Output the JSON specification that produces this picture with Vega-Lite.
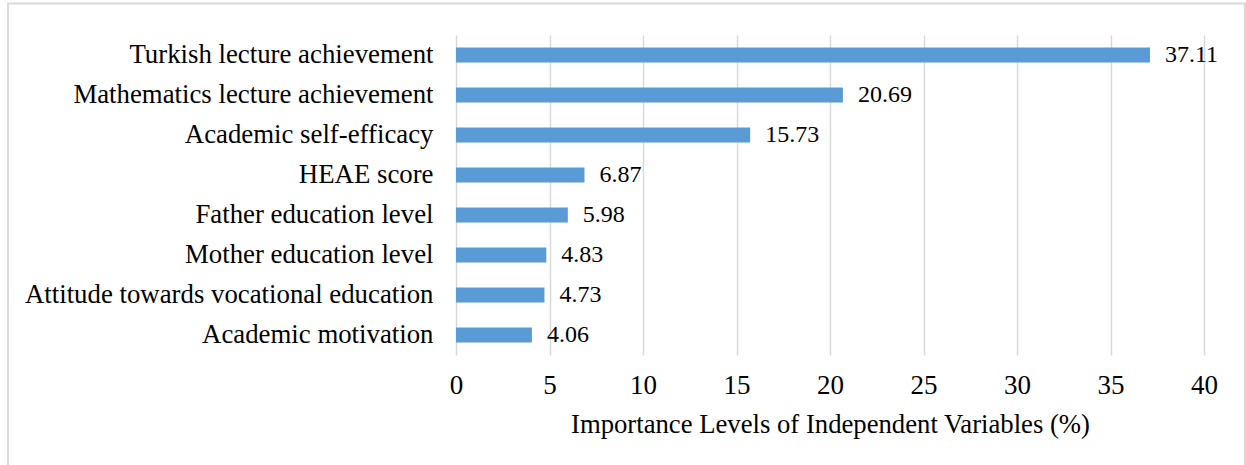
{
  "$schema": "https://vega.github.io/schema/vega-lite/v6.json",
  "autosize": {"type": "none"},
  "width": 748,
  "height": 320,
  "padding": {"left": 456, "top": 35, "right": 42, "bottom": 110},
  "background": "white",
  "config": {
    "view": {"stroke": null},
    "font": "Liberation Serif"
  },
  "datasets": {
    "vars": [
      {"variable": "Turkish lecture achievement", "importance": 37.11},
      {"variable": "Mathematics lecture achievement", "importance": 20.69},
      {"variable": "Academic self-efficacy", "importance": 15.73},
      {"variable": "HEAE score", "importance": 6.87},
      {"variable": "Father education level", "importance": 5.98},
      {"variable": "Mother education level", "importance": 4.83},
      {"variable": "Attitude towards vocational education", "importance": 4.73},
      {"variable": "Academic motivation", "importance": 4.06}
    ],
    "frame": [
      {"x1": -23.96, "x2": 42.19, "y1": -0.6, "y2": 1.0984}
    ]
  },
  "layer": [
    {
      "layer": [
        {
          "data": {"name": "vars"},
          "mark": {"type": "bar", "color": "#5B9BD5"},
          "encoding": {
            "x": {
              "field": "importance",
              "type": "quantitative",
              "scale": {"domain": [0, 40], "nice": false, "zero": true},
              "axis": {
                "values": [0, 5, 10, 15, 20, 25, 30, 35, 40],
                "domain": false,
                "ticks": false,
                "grid": true,
                "gridColor": "#d9d9d9",
                "gridWidth": 1.5,
                "labelFlush": false,
                "labelFont": "Liberation Serif",
                "labelFontSize": 27,
                "labelColor": "#000000",
                "labelPadding": 17,
                "title": "Importance Levels of Independent Variables (%)",
                "titleFont": "Liberation Serif",
                "titleFontSize": 26.7,
                "titleFontWeight": "normal",
                "titleColor": "#000000",
                "titlePadding": 13
              }
            },
            "y": {
              "field": "variable",
              "type": "nominal",
              "sort": null,
              "scale": {"paddingInner": 0.625, "paddingOuter": 0.3125},
              "axis": {
                "domain": false,
                "ticks": false,
                "grid": false,
                "title": null,
                "labelFont": "Liberation Serif",
                "labelFontSize": 26.8,
                "labelColor": "#000000",
                "labelPadding": 23,
                "labelLimit": 0
              }
            }
          }
        },
        {
          "data": {"name": "vars"},
          "mark": {"type": "text", "align": "left", "baseline": "middle", "dx": 15, "fontSize": 24, "font": "Liberation Serif", "color": "#000000"},
          "encoding": {
            "x": {"field": "importance", "type": "quantitative"},
            "y": {"field": "variable", "type": "nominal", "sort": null},
            "text": {"field": "importance", "type": "quantitative", "format": ".2f"}
          }
        }
      ]
    },
    {
      "data": {"name": "frame"},
      "mark": {"type": "rect", "fill": null, "fillOpacity": 0, "stroke": "#d9d9d9", "strokeWidth": 2},
      "encoding": {
        "x": {"field": "x1", "type": "quantitative", "scale": {"domain": [0, 40], "nice": false}},
        "x2": {"field": "x2"},
        "y": {"field": "y1", "type": "quantitative", "scale": {"domain": [0, 1], "nice": false, "zero": false}, "axis": null},
        "y2": {"field": "y2"}
      }
    }
  ],
  "resolve": {"scale": {"y": "independent"}, "axis": {"y": "independent"}}
}
